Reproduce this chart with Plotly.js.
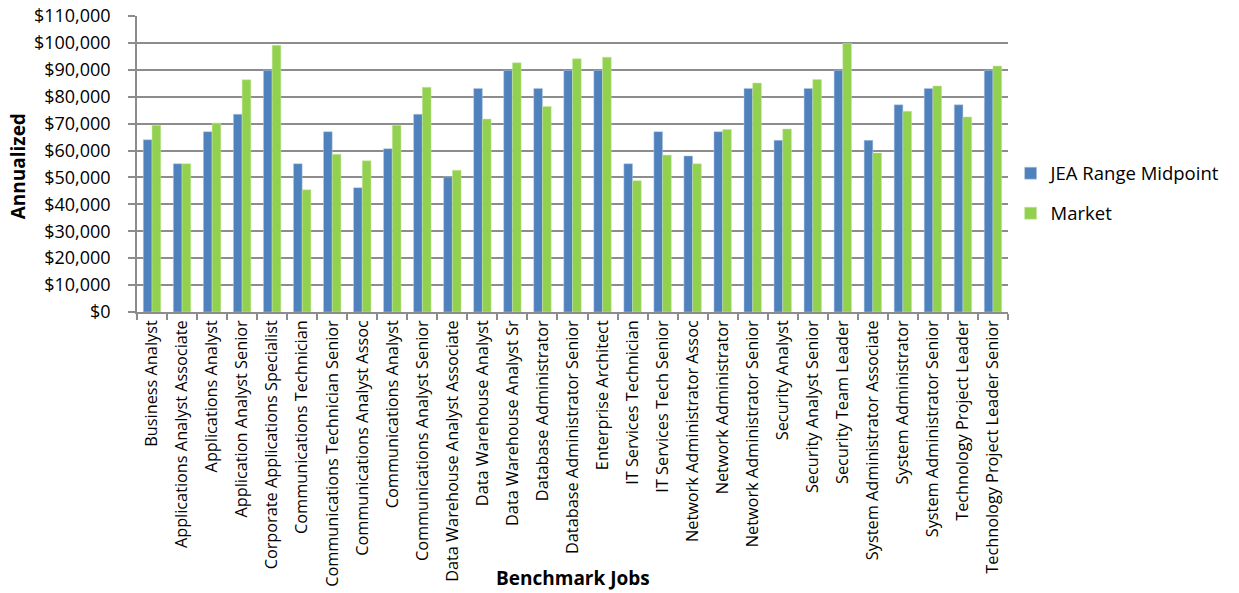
<!DOCTYPE html>
<html>
<head>
<meta charset="utf-8">
<script src="https://cdn.plot.ly/plotly-3.0.1.min.js"></script>
<style>html,body{margin:0;padding:0;background:#fff}#chart{width:1239px;height:593px}</style>
</head>
<body>
<div id="chart"></div>
<script>
const categories = [
  "Business Analyst","Applications Analyst Associate","Applications Analyst","Application Analyst Senior",
  "Corporate Applications Specialist","Communications Technician","Communications Technician Senior",
  "Communications Analyst Assoc","Communications Analyst","Communications Analyst Senior",
  "Data Warehouse Analyst Associate","Data Warehouse Analyst","Data Warehouse Analyst Sr",
  "Database Administrator","Database Administrator Senior","Enterprise Architect","IT Services Technician",
  "IT Services Tech Senior","Network Administrator Assoc","Network Administrator","Network Administrator Senior",
  "Security Analyst","Security Analyst Senior","Security Team Leader","System Administrator Associate",
  "System Administrator","System Administrator Senior","Technology Project Leader","Technology Project Leader Senior"
];
const jeaMidpoint = [64000,55100,67000,73500,89800,55100,67000,46200,60700,73500,50200,83100,89800,83100,89800,89800,55100,67000,58000,67000,83100,63800,83100,89800,63800,77000,83100,77000,89800];
const market = [69400,55100,70200,86300,99100,45400,58600,56200,69400,83500,52700,71700,92600,76400,94100,94700,48800,58300,55100,67800,85100,68000,86400,99800,59100,74600,84000,72500,91400];
const yTickVals = [0,10000,20000,30000,40000,50000,60000,70000,80000,90000,100000,110000];
const yTickText = ["$0","$10,000","$20,000","$30,000","$40,000","$50,000","$60,000","$70,000","$80,000","$90,000","$100,000","$110,000"];

const font = "Open Sans, Noto Sans, DejaVu Sans, sans-serif";
const data = [
  {type:"bar", name:"JEA Range Midpoint", x:categories, y:jeaMidpoint, legendgroup:"a",
   marker:{color:"#4F81BD", line:{color:"#B9CDE5", width:0.5}}},
  {type:"bar", name:"Market", x:categories, y:market, legendgroup:"b",
   marker:{color:"#92D050", line:{color:"#C6E8A0", width:0.5}}}
];
const layout = {
  width:1239, height:593,
  margin:{l:137, r:229, t:16, b:281},
  paper_bgcolor:"#fff", plot_bgcolor:"#fff",
  barmode:"group", bargap:0.42, bargroupgap:0,
  font:{family:font, color:"#000"},
  showlegend:true,
  legend:{x:1.003, y:0.40, xanchor:"left", yanchor:"middle", font:{size:18.5, family:font},
          tracegroupgap:13, itemwidth:30, traceorder:"grouped"},
  xaxis:{
    type:"category", tickangle:-90, tickfont:{size:16.3, family:font},
    showline:true, linecolor:"#8c8c8c", linewidth:1.5,
    ticks:"outside", tickson:"boundaries", ticklen:6, tickcolor:"#8c8c8c", tickwidth:1.5,
    showgrid:false
  },
  yaxis:{
    range:[0,110000], tickvals:yTickVals, ticktext:yTickText, tickfont:{size:18, family:font},
    showgrid:true, gridcolor:"#8c8c8c", gridwidth:1.5,
    showline:true, linecolor:"#8c8c8c", linewidth:1.5,
    ticks:"outside", ticklen:7, tickcolor:"#8c8c8c", tickwidth:1.5, ticklabelstandoff:14,
    zeroline:false
  },
  annotations:[
    {text:"<b>Benchmark Jobs</b>", xref:"paper", yref:"paper", x:0.5, y:(312-578)/296, xanchor:"center", yanchor:"middle",
     showarrow:false, font:{size:19, family:font}},
    {text:"<b>Annualized</b>", xref:"paper", yref:"paper", x:(18-137)/873, y:(312-166)/296, xanchor:"center", yanchor:"middle",
     textangle:-90, showarrow:false, font:{size:19, family:font}}
  ]
};
Plotly.newPlot("chart", data, layout, {displayModeBar:false});
</script>
</body>
</html>
